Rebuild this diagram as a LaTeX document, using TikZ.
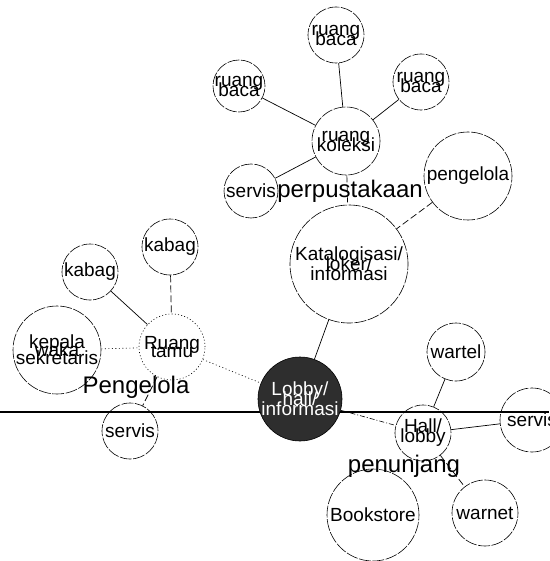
\documentclass[tikz,border=0pt]{standalone}
\usepackage{fontspec}
\setmainfont{Liberation Sans}
% centred stack of lines whose width does not widen the circle around it
\newcommand\ctext[1]{\makebox[0pt]{\vbox{\lineskiplimit=-100pt\baselineskip=10pt\halign{\hfil##\hfil\cr#1\crcr}}}}
\tikzset{
  room/.style={circle, draw, line width=0.6pt, dash pattern=on 12pt off 1.5pt,
    inner sep=0pt, minimum size=#1, font=\fontsize{19}{10}\selectfont},
  roomdot/.style={room=#1, dash pattern=on 1pt off 2.2pt},
  hub/.style={room=#1, fill=black!82, text=white, solid},
  zone/.style={font=\fontsize{24}{24}\selectfont, anchor=base, inner sep=0pt},
  lk/.style={line width=0.7pt},
  lkd/.style={line width=0.7pt, dash pattern=on 7pt off 3pt},
  lkdd/.style={line width=0.6pt, dash pattern=on 5pt off 2pt on 1pt off 2pt},
  lkdot/.style={line width=0.6pt, dash pattern=on 1pt off 2.5pt},
}
\begin{document}
\begin{tikzpicture}[x=1pt, y=-1pt]
\useasboundingbox (0,0) rectangle (549,561);
\fill[white] (0,0) rectangle (549,561);

% ground line
\coordinate (gl) at (0,412);
\coordinate (gr) at (549,412);
\draw[line width=1.1pt] (gl) -- (gr);

% library group
\node[room=56pt] (rbT) at (336,35) {\ctext{ruang\cr baca}};
\node[room=52pt] (rbL) at (239,86) {\ctext{ruang\cr baca}};
\node[room=56pt] (rbR) at (421,82) {\ctext{ruang\cr baca}};
\node[room=68pt] (kol) at (346,141) {\ctext{ruang\cr koleksi}};
\node[room=54pt] (sv1) at (251,191) {\ctext{servis}};
\node[room=88pt] (pgl) at (468,176) {\ctext{pengelola}};
\node[room=118pt] (kat) at (349,264) {\ctext{Katalogisasi/\cr loker/\cr informasi}};

% management group
\node[room=56pt] (kb1) at (170,247) {\ctext{kabag}};
\node[room=56pt] (kb2) at (90,272) {\ctext{kabag}};
\node[room=88pt] (kep) at (57,350) {\vbox{\baselineskip=8pt\lineskiplimit=-100pt\halign{\hfil#\hfil\cr kepala\cr waka\cr sekretaris\crcr}}};
\node[roomdot=66pt] (tamu) at (172,347) {\vbox{\baselineskip=8pt\lineskiplimit=-100pt\halign{\hfil#\hfil\cr Ruang\cr tamu\crcr}}};
\node[room=56pt] (sv2) at (130,431) {\ctext{servis}};

% central lobby
\node[hub=84pt] (lobby) at (300,399) {\ctext{Lobby/\cr hall/\cr informasi}};

% support group
\node[room=56pt] (hall) at (423,433) {\ctext{Hall/\cr lobby}};
\node[room=58pt] (wart) at (456,352) {\ctext{wartel}};
\node[room=64pt] (sv3) at (532,420) {\ctext{servis}};
\node[room=92pt] (book) at (373,515) {\ctext{Bookstore}};
\node[room=66pt] (warn) at (485,513) {\ctext{warnet}};

% zone labels
\node[zone] (lpus) at (350,197) {perpustakaan};
\node[zone] (lpgl) at (136,393) {Pengelola};
\node[zone] (lpen) at (404,472) {penunjang};

% connectors
\draw[lk] (rbT) -- (kol);
\draw[lk] (rbL) -- (kol);
\draw[lk] (rbR) -- (kol);
\draw[lk] (sv1) -- (kol);
\draw[lkd] (kol) -- (kat);
\draw[lkd] (pgl) -- (kat);
\draw[lk] (kat) -- (lobby);
\draw[lkd] (kb1) -- (tamu);
\draw[lk] (kb2) -- (tamu);
\draw[lkdot] (kep) -- (tamu);
\draw[lkdot] (tamu) -- (lobby);
\draw[lkd] (tamu) -- (sv2);
\draw[lkdd] (lobby) -- (hall);
\draw[lk] (hall) -- (wart);
\draw[lk] (hall) -- (sv3);
\draw[lkd] (hall) -- (warn);
\end{tikzpicture}
\end{document}
